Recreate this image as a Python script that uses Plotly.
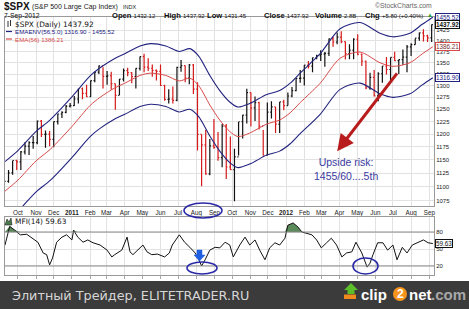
import numpy as np
import pandas as pd
import plotly.graph_objects as go

# ---------------- DATA ----------------
week_end = pd.date_range("2010-09-10", "2012-09-07", freq="W-FRI")

wk_high = [1110, 1131, 1148, 1150, 1167, 1184, 1186, 1196, 1227, 1228, 1207, 1206, 1225, 1241, 1246, 1259, 1263,
           1278, 1293, 1296, 1302, 1311, 1330, 1344, 1340, 1332, 1330, 1304, 1314, 1337, 1339, 1329, 1338, 1364,
           1370, 1360, 1346, 1335, 1346, 1302, 1292, 1298, 1341, 1356, 1344, 1347, 1347, 1307, 1199, 1208, 1190,
           1230, 1204, 1220, 1220, 1195, 1171, 1224, 1239, 1293, 1285, 1277, 1266, 1208, 1264, 1267, 1255, 1265, 1270,
           1285, 1297, 1316, 1334, 1345, 1354, 1362, 1368, 1378, 1374, 1405, 1409, 1419, 1422, 1398, 1392, 1406,
           1415, 1371, 1355, 1328, 1334, 1329, 1343, 1363, 1362, 1375, 1357, 1380, 1390, 1394, 1405, 1419, 1427,
           1414, 1438]
wk_low = [1091, 1107, 1122, 1131, 1131, 1160, 1159, 1171, 1180, 1194, 1173, 1176, 1174, 1219, 1232, 1242, 1254,
          1257, 1262, 1271, 1276, 1276, 1307, 1325, 1294, 1302, 1291, 1249, 1280, 1309, 1320, 1305, 1294, 1333,
          1329, 1332, 1319, 1311, 1299, 1268, 1262, 1262, 1267, 1330, 1307, 1303, 1282, 1168, 1101, 1122, 1121,
          1171, 1148, 1136, 1114, 1131, 1074, 1158, 1191, 1221, 1215, 1226, 1209, 1158, 1158, 1231, 1202, 1202, 1248,
          1258, 1275, 1288, 1306, 1300, 1337, 1329, 1358, 1354, 1341, 1365, 1386, 1392, 1394, 1357, 1358, 1358,
          1367, 1343, 1292, 1291, 1277, 1267, 1306, 1324, 1310, 1354, 1325, 1345, 1329, 1365, 1391, 1400, 1398,
          1397, 1397]
wk_close = [1109.6, 1125.6, 1148.7, 1146.2, 1165.2, 1176.2, 1183.1, 1183.3, 1225.9, 1199.2, 1199.7, 1189.4, 1224.7,
            1240.4, 1243.9, 1256.8, 1257.6,
            1271.5, 1293.2, 1283.4, 1276.3, 1310.9, 1329.2, 1343.0, 1319.9, 1321.2, 1304.3, 1279.2, 1313.8, 1332.4,
            1328.2, 1319.7, 1337.4, 1363.6, 1340.2, 1337.8, 1333.3, 1331.1, 1300.2, 1270.9, 1271.5, 1268.5, 1339.7,
            1343.8, 1316.1, 1345.0, 1292.3, 1199.4, 1178.8, 1123.5, 1176.8, 1174.0, 1154.2, 1216.0, 1136.4, 1131.4,
            1155.5, 1224.6, 1238.3, 1285.1, 1253.2, 1263.9, 1215.7, 1158.7, 1244.3, 1255.2, 1219.7, 1265.3, 1257.6,
            1277.8, 1289.1, 1315.4, 1316.3, 1344.9, 1342.6, 1361.2, 1365.7, 1369.6, 1370.9, 1404.2, 1397.1, 1408.5,
            1398.1, 1370.3, 1378.5, 1403.4, 1369.1, 1353.4, 1295.2, 1317.8, 1278.0, 1325.7, 1342.8, 1335.0, 1362.2,
            1354.7, 1356.8, 1362.7, 1386.0, 1391.0, 1405.9, 1418.2, 1411.1, 1406.6, 1437.92]
prev_close_start = 1104.5
wk_open = [prev_close_start] + wk_close[:-1]

ema_dates = ["2010-09-09", "2010-10-01", "2010-11-01", "2010-11-25", "2011-01-01", "2011-02-01", "2011-02-18",
             "2011-03-15", "2011-04-01", "2011-04-27", "2011-05-15", "2011-06-10", "2011-07-03", "2011-07-21",
             "2011-08-05", "2011-08-24", "2011-09-10", "2011-09-27", "2011-10-11", "2011-10-31", "2011-11-29",
             "2011-12-21", "2012-01-08", "2012-01-25", "2012-02-28", "2012-04-02", "2012-05-06", "2012-06-09",
             "2012-07-01", "2012-07-30", "2012-08-20", "2012-09-07"]
ema_vals = [1092, 1112, 1148, 1170, 1215, 1258, 1275, 1295, 1305, 1322, 1327, 1322, 1310, 1316, 1300, 1259, 1228,
            1205, 1195, 1202, 1220, 1228, 1243, 1264, 1305, 1360, 1374, 1350, 1342, 1350, 1370, 1386.21]
env_pct = 5.0

mfi_dates = ["2010-09-09", "2010-09-17", "2010-09-26", "2010-10-05", "2010-10-16", "2010-10-26", "2010-11-04",
             "2010-11-13", "2010-11-19", "2010-11-24", "2010-11-29", "2010-12-06", "2010-12-15", "2010-12-23",
             "2011-01-01", "2011-01-04", "2011-01-11", "2011-01-20", "2011-01-28", "2011-02-06", "2011-02-18",
             "2011-03-02", "2011-03-10", "2011-03-15", "2011-03-27", "2011-04-05", "2011-04-10", "2011-04-15",
             "2011-04-23", "2011-05-02", "2011-05-09", "2011-05-17", "2011-05-27", "2011-06-08", "2011-06-16",
             "2011-06-21", "2011-07-03", "2011-07-12", "2011-07-21", "2011-07-30", "2011-08-04", "2011-08-10",
             "2011-08-16", "2011-08-24", "2011-09-02", "2011-09-10", "2011-09-19", "2011-09-27", "2011-10-03",
             "2011-10-14", "2011-10-23", "2011-10-31", "2011-11-09", "2011-11-17", "2011-11-26", "2011-12-04",
             "2011-12-13", "2011-12-21", "2011-12-30", "2012-01-04", "2012-01-13", "2012-01-21", "2012-01-28",
             "2012-02-05", "2012-02-14", "2012-02-22", "2012-03-01", "2012-03-10", "2012-03-18", "2012-03-27",
             "2012-04-05", "2012-04-13", "2012-04-22", "2012-04-29", "2012-05-09", "2012-05-18", "2012-05-23",
             "2012-05-28", "2012-06-05", "2012-06-14", "2012-06-22", "2012-07-01", "2012-07-08", "2012-07-17",
             "2012-07-25", "2012-08-03", "2012-08-13", "2012-08-22", "2012-08-30", "2012-09-07"]
mfi_vals = [57, 90, 83, 75, 76, 69, 62, 43, 40, 22, 34, 62, 71, 75,
            66, 83, 71, 62, 66, 61, 57, 48, 36, 40, 48, 71, 45, 40, 48, 57, 45, 40, 41, 36, 43, 57, 75, 62, 53, 43,
            34, 20, 31, 48, 53, 52, 62, 57, 36, 57, 71, 57, 66, 48, 31, 52, 61, 57, 69,
            92, 96, 89, 80, 78, 75, 66, 52, 61, 69, 57, 36, 43, 45, 62, 43, 18, 25, 40, 61, 61, 48, 57, 31, 53, 43,
            57, 62, 66, 61, 59.63]

month_ticks = list(pd.date_range("2010-10-01", "2012-09-01", freq="MS"))
month_labels = ["Oct", "Nov", "Dec", "<b>2011</b>", "Feb", "Mar", "Apr", "May", "Jun", "Jul", "Aug", "Sep",
                "Oct", "Nov", "Dec", "<b>2012</b>", "Feb", "Mar", "Apr", "May", "Jun", "Jul", "Aug", "Sep"]
price_ticks = [1075, 1100, 1125, 1150, 1175, 1200, 1225, 1250, 1275, 1300, 1325, 1350, 1375, 1400, 1425]
mfi_ticks = [20, 50, 80]

last_close = 1437.92
ema_last = 1386.21
env_lo_last = 1316.90
env_hi_last = 1455.52
mfi_last = 59.63

# ---------------- LAYOUT HELPERS ----------------
W, H = 469, 309
L, R, T, B = 5, 35, 17, 34
PW = W - L - R
PH = H - T - B


def px(x):
    return (x - L) / PW


def py(y):
    return (H - B - y) / PH


SANS = "Liberation Sans, Arial, sans-serif"
VERD = "DejaVu Sans, Verdana, sans-serif"
NAVY = "#23237f"
RED = "#d84a4a"

bar_dates = week_end - pd.Timedelta(days=2)
ema = np.array(ema_vals, dtype=float)
upper = ema * (1 + env_pct / 100)
lower = ema * (1 - env_pct / 100)
mfi = np.array(mfi_vals, dtype=float)

fig = go.Figure()
fig.add_trace(go.Scatter(x=ema_dates, y=upper, mode="lines", hoverinfo="skip",
                         line=dict(color=NAVY, width=1.1, shape="spline", smoothing=0.8)))
fig.add_trace(go.Scatter(x=ema_dates, y=lower, mode="lines", hoverinfo="skip",
                         line=dict(color=NAVY, width=1.1, shape="spline", smoothing=0.8)))
fig.add_trace(go.Scatter(x=ema_dates, y=ema, mode="lines", hoverinfo="skip",
                         line=dict(color=RED, width=1, shape="spline", smoothing=0.8)))
fig.add_trace(go.Ohlc(x=bar_dates, open=wk_open, high=wk_high, low=wk_low, close=wk_close,
                      increasing=dict(line=dict(color="#111111", width=1.2)),
                      decreasing=dict(line=dict(color="#d61a1a", width=1.2)),
                      tickwidth=0.3, hoverinfo="skip"))

# MFI panel
fig.add_trace(go.Scatter(x=mfi_dates, y=[80] * len(mfi_dates), mode="lines", line=dict(width=0),
                         xaxis="x2", yaxis="y2", hoverinfo="skip"))
fig.add_trace(go.Scatter(x=mfi_dates, y=np.maximum(mfi, 80), mode="lines", line=dict(width=0),
                         fill="tonexty", fillcolor="#5b8a5b", xaxis="x2", yaxis="y2", hoverinfo="skip"))
fig.add_trace(go.Scatter(x=mfi_dates, y=mfi, mode="lines", line=dict(color="#111111", width=1),
                         xaxis="x2", yaxis="y2", hoverinfo="skip"))

grid = "#e2e2e2"
axis_line = "#9a9a9a"
fig.update_layout(
    width=W, height=H, margin=dict(l=L, r=R, t=T, b=B),
    paper_bgcolor="white", plot_bgcolor="white", showlegend=False,
    xaxis=dict(domain=[0, 1], anchor="y", type="date", range=["2010-09-09", "2012-09-09"],
               tickvals=month_ticks, ticktext=month_labels, ticks="", showgrid=True, gridcolor=grid,
               tickfont=dict(family=SANS, size=6.3, color="#222"), showline=True, linecolor=axis_line,
               mirror=True, rangeslider=dict(visible=False), zeroline=False),
    yaxis=dict(domain=[py(206), 1], anchor="x", type="log",
               range=[np.log10(1065.5), np.log10(1456)], side="right", tickvals=price_ticks,
               ticktext=[str(v) for v in price_ticks], showgrid=True, gridcolor=grid, ticks="",
               tickfont=dict(family=SANS, size=6, color="#222"), showline=True, linecolor=axis_line,
               mirror=True, zeroline=False),
    xaxis2=dict(domain=[0, 1], anchor="y2", type="date", matches="x", tickvals=month_ticks,
                showticklabels=False, ticks="outside", ticklen=3, tickcolor="#aaa", showgrid=True,
                gridcolor=grid, showline=True, linecolor=axis_line, mirror=True, zeroline=False),
    yaxis2=dict(domain=[0, py(217)], anchor="x2", range=[4.1, 106.5], side="right", tickvals=mfi_ticks,
                showgrid=True, gridcolor=grid, ticks="", tickfont=dict(family=SANS, size=6, color="#222"),
                showline=True, linecolor=axis_line, mirror=True, zeroline=False),
)

shapes = []
for lv in (80, 20):
    shapes.append(dict(type="line", xref="paper", yref="y2", x0=0, x1=1, y0=lv, y1=lv,
                       line=dict(color="#8a8a8a", width=1)))
shapes.append(dict(type="line", xref="x", yref="y", x0="2012-06-07", y0=np.log10(1259),
                   x1="2012-09-08", y1=np.log10(1431), line=dict(color="rgba(140,140,140,0.55)", width=3)))
shapes.append(dict(type="line", xref="x", yref="y", x0="2012-06-02", y0=np.log10(1266),
                   x1="2012-09-05", y1=np.log10(1441), line=dict(color="#c41818", width=3.2)))
ell = dict(color="#2a2aa8", width=1.6)
for (x0, y0, x1, y1) in [(184, 203, 222, 218), (187, 262, 217, 274), (353, 258, 378, 274)]:
    shapes.append(dict(type="circle", xref="paper", yref="paper", x0=px(x0), x1=px(x1), y0=py(y1), y1=py(y0),
                       line=ell))


def path(pts):
    return "M " + " L ".join(f"{px(a):.5f},{py(b):.5f}" for a, b in pts) + " Z"


shapes.append(dict(type="path", xref="paper", yref="paper",
                   path=path([(197, 250), (202, 250), (202, 255), (205, 255), (199.5, 261), (194, 255), (197, 255)]),
                   fillcolor="#1f5fe0", line=dict(color="#1f5fe0", width=0.5)))
shapes.append(dict(type="line", xref="paper", yref="paper", x0=px(6), x1=px(12), y0=py(31.5), y1=py(31.5),
                   line=dict(color=NAVY, width=1.2)))
shapes.append(dict(type="line", xref="paper", yref="paper", x0=px(6), x1=px(12), y0=py(39), y1=py(39),
                   line=dict(color=RED, width=1.2)))
for xx, a, b in [(8, 21, 27), (10.5, 20, 26)]:
    shapes.append(dict(type="line", xref="paper", yref="paper", x0=px(xx), x1=px(xx), y0=py(b), y1=py(a),
                       line=dict(color="#333", width=1)))
shapes.append(dict(type="path", xref="paper", yref="paper",
                   path=path([(5, 225), (7, 219), (9, 222), (11, 218), (12, 225)]),
                   fillcolor="#4a7a4a", line=dict(color="#222", width=0.6)))
shapes.append(dict(type="rect", xref="paper", yref="paper", x0=px(0), x1=px(W), y0=py(H), y1=py(281),
                   fillcolor="#3b3b3b", line=dict(width=0)))
shapes.append(dict(type="path", xref="paper", yref="paper",
                   path=path([(344, 290), (351, 283), (358, 290), (354.5, 290), (354.5, 294), (347.5, 294),
                              (347.5, 290)]), fillcolor="#5cbf2a", line=dict(width=0)))
shapes.append(dict(type="rect", xref="paper", yref="paper", x0=px(344), x1=px(356), y0=py(299), y1=py(294.5),
                   fillcolor="#f08a1c", line=dict(width=0)))
shapes.append(dict(type="circle", xref="paper", yref="paper", x0=px(393), x1=px(407), y0=py(301), y1=py(287),
                   fillcolor="#f7941d", line=dict(width=0)))
fig.update_layout(shapes=shapes)

ann = []


def txt(x, y, s, size, color="#111", family=SANS, anchor="left"):
    ann.append(dict(x=px(x), y=py(y), xref="paper", yref="paper", text=s, showarrow=False, xanchor=anchor,
                    yanchor="middle", font=dict(family=family, size=size, color=color)))


txt(2, 6.5, "<b>$SPX</b>", 10)
txt(30, 7.5, "(S&amp;P 500 Large Cap Index)", 7, "#222")
txt(121, 7.5, "INDX", 5.5, "#222")
txt(2, 16.2, "7-Sep-2012", 6.8, "#111")
vs = "<span style='font-size:6px'>{}</span>"
for x, lab, val in [(110, "Open", "1432.12"), (162, "High", "1437.92"), (205, "Low", "1431.45"),
                    (262, "Close", "1437.92"), (313, "Volume", "2.8B"), (363, "Chg", "+5.80 (+0.40%)")]:
    txt(x, 15.5, f"<b>{lab}</b> " + vs.format(val), 7.6, "#111")
txt(430, 15, "▲", 6, "#2c9a2c", anchor="center")
txt(373, 6, "©StockCharts.com", 6.8, "#666")
txt(13, 24, "$SPX (Daily) 1437.92", 7.4, "#111", VERD)
txt(13, 31.5, "EMAENV(56,5.0) 1316.90 - 1455.52", 6.2, NAVY)
txt(13, 39, "EMA(56) 1386.21", 6.2, RED)
txt(13, 221.5, "MFI(14) 59.63", 7.4, "#111", VERD)
ann.append(dict(x=px(346), y=py(169), xref="paper", yref="paper", text="Upside risk:<br>1455/60....5th",
                showarrow=False, xanchor="center", yanchor="middle", align="center",
                font=dict(family=SANS, size=10.5, color="#3a3aa0")))
ann.append(dict(x="2012-03-28", y=np.log10(1166.6), xref="x", yref="y", ax="2012-07-10", ay=np.log10(1330),
                axref="x", ayref="y", text="", showarrow=True, arrowhead=2, arrowsize=1.1, arrowwidth=3,
                arrowcolor="#b81c1c"))


def tag(val, txtv, yref, color, bold=False, textcolor=None):
    yv = np.log10(val) if yref == "y" else val
    ann.append(dict(x=1, y=yv, xref="paper", yref=yref, xanchor="left", yanchor="middle", xshift=1,
                    text=f"<b>{txtv}</b>" if bold else txtv, showarrow=False, bgcolor="white",
                    bordercolor=color, borderwidth=1, borderpad=0,
                    font=dict(family=SANS, size=6.3, color=textcolor or color)))


tag(env_hi_last, f"{env_hi_last:.2f}", "y", NAVY)
tag(last_close, f"{last_close:.2f}", "y", "#111", bold=True)
tag(ema_last, f"{ema_last:.2f}", "y", RED, textcolor="#7a3030")
tag(env_lo_last, f"{env_lo_last:.2f}", "y", NAVY)
tag(mfi_last, f"{mfi_last:.2f}", "y2", "#111")

txt(10, 295, "Элитный Трейдер, ELITETRADER.RU", 12.8, "#d6d6d6", VERD)
txt(359, 294, "<b>clip</b>", 15, "white", SANS)
txt(400, 294, "<b>2</b>", 12, "white", SANS, anchor="center")
txt(407, 294, "<b>net</b>", 15, "white", SANS)
txt(429, 294, "<b>.com</b>", 15, "#a8a8a8", SANS)

fig.update_layout(annotations=ann)
fig.write_html("out.html")
